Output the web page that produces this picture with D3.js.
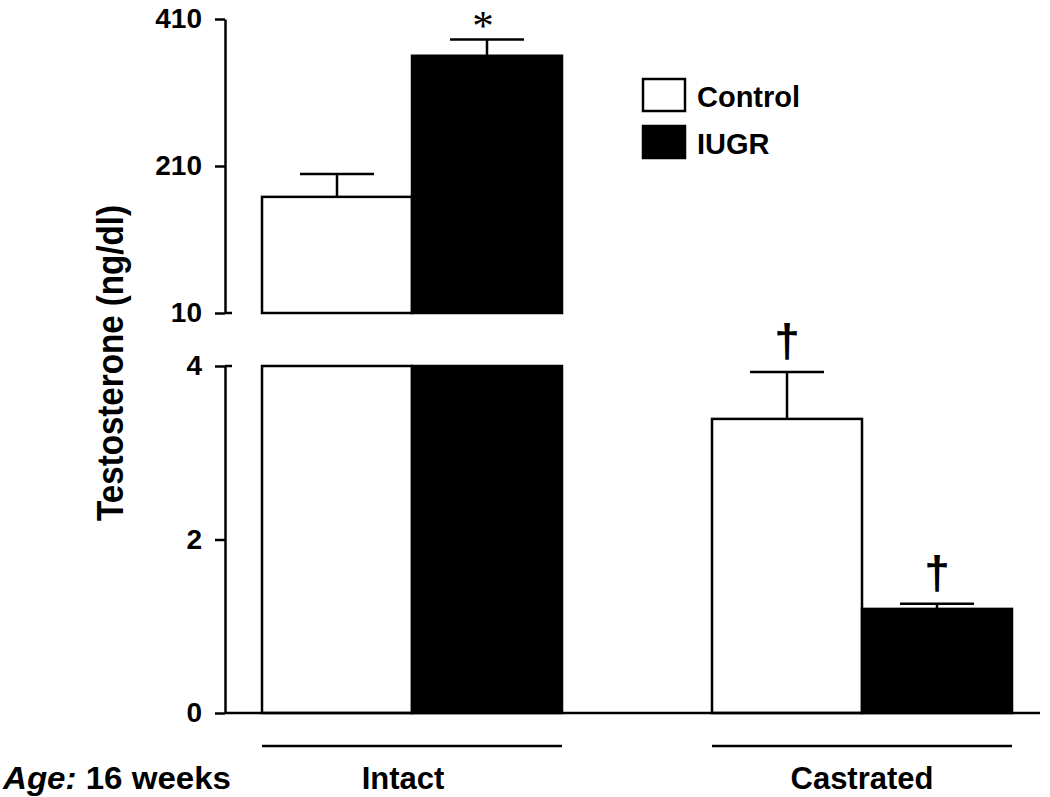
<!DOCTYPE html>
<html><head><meta charset="utf-8">
<script src="https://cdn.jsdelivr.net/npm/d3@7"></script>
<style>
html,body{margin:0;padding:0;background:#fff;}
text{font-family:"Liberation Sans",Arial,sans-serif;font-weight:bold;fill:#000;}
</style></head>
<body><svg id="c" width="1050" height="797"></svg>
<script>
const categories = ["Intact","Castrated"];
const seriesNames = ["Control","IUGR"];
const controlValues = [168, 3.39];
const iugrValues = [360, 1.2];
const controlSEM = [31, 0.54];
const iugrSEM = [22, 0.06];
const upperTicks = [10,210,410];
const lowerTicks = [0,2,4];
const controlMarkers = ["","†"];
const iugrMarkers = ["*","†"];

const svg = d3.select("#c");
const yUp = d3.scaleLinear().domain([10,410]).range([313,19]);
const yLo = d3.scaleLinear().domain([0,4]).range([713,366]);
const x = d3.scaleBand().domain(categories).range([262,1012]).paddingInner(1/3).paddingOuter(0);
const xs = d3.scaleBand().domain(seriesNames).range([0,x.bandwidth()]);
const axisX = 225;
const SW = 2.5;

// axes
const gUp = svg.append("g").attr("transform",`translate(${axisX},0)`)
  .call(d3.axisLeft(yUp).tickValues(upperTicks).tickSize(10).tickSizeOuter(0).tickPadding(13).tickFormat(d3.format("d")));
const gLo = svg.append("g").attr("transform",`translate(${axisX},0)`)
  .call(d3.axisLeft(yLo).tickValues(lowerTicks).tickSize(10).tickSizeOuter(0).tickPadding(13).tickFormat(d3.format("d")));
[gUp,gLo].forEach(g=>{
  g.selectAll("path.domain").attr("stroke","#000").attr("stroke-width",SW);
  g.selectAll(".tick line").attr("stroke","#000").attr("stroke-width",SW);
  g.selectAll(".tick text").attr("font-size",28).attr("font-family","Liberation Sans, Arial, sans-serif").attr("font-weight","bold").attr("fill","#000");
});
// break caps
[yUp(10), yLo(4)].forEach(yy=>{
  svg.append("line").attr("x1",axisX).attr("x2",axisX+7).attr("y1",yy).attr("y2",yy).attr("stroke","#000").attr("stroke-width",SW);
});

// data rows
const rows = [];
categories.forEach((c,i)=>{
  rows.push({cat:c,s:"Control",v:controlValues[i],e:controlSEM[i],mark:controlMarkers[i]});
  rows.push({cat:c,s:"IUGR",v:iugrValues[i],e:iugrSEM[i],mark:iugrMarkers[i]});
});
const fill = s => s==="Control" ? "#fff" : "#000";

rows.forEach(r=>{
  const x0 = x(r.cat)+xs(r.s), w = xs.bandwidth(), cx = x0+w/2;
  let scale;
  if (r.v > 4) {
    svg.append("rect").attr("x",x0).attr("y",yLo(4)).attr("width",w).attr("height",yLo(0)-yLo(4))
      .attr("fill",fill(r.s)).attr("stroke","#000").attr("stroke-width",SW);
    svg.append("rect").attr("x",x0).attr("y",yUp(r.v)).attr("width",w).attr("height",yUp(10)-yUp(r.v))
      .attr("fill",fill(r.s)).attr("stroke","#000").attr("stroke-width",SW);
    scale = yUp;
  } else {
    svg.append("rect").attr("x",x0).attr("y",yLo(r.v)).attr("width",w).attr("height",yLo(0)-yLo(r.v))
      .attr("fill",fill(r.s)).attr("stroke","#000").attr("stroke-width",SW);
    scale = yLo;
  }
  const topY = scale(r.v), errY = scale(r.v + r.e);
  svg.append("line").attr("x1",cx).attr("x2",cx).attr("y1",topY).attr("y2",errY).attr("stroke","#000").attr("stroke-width",SW);
  svg.append("line").attr("x1",cx-37).attr("x2",cx+37).attr("y1",errY).attr("y2",errY).attr("stroke","#000").attr("stroke-width",SW);
  if (r.mark==="*") {
    svg.append("text").attr("x",cx-4).attr("y",errY).attr("text-anchor","middle")
      .style("font-family","Liberation Serif, Times New Roman, serif").style("font-weight","normal")
      .attr("font-size",43).text("*");
  } else if (r.mark) {
    svg.append("text").attr("x",cx).attr("y",errY-15).attr("text-anchor","middle").attr("font-size",46).text(r.mark);
  }
});

// baseline
svg.append("line").attr("x1",axisX).attr("x2",1040).attr("y1",yLo(0)).attr("y2",yLo(0)).attr("stroke","#000").attr("stroke-width",SW);

// group underlines and labels
const labelShift = [-9, 0];
categories.forEach((c,i)=>{
  svg.append("line").attr("x1",x(c)).attr("x2",x(c)+x.bandwidth()).attr("y1",746).attr("y2",746).attr("stroke","#000").attr("stroke-width",SW);
  svg.append("text").attr("x",x(c)+x.bandwidth()/2+labelShift[i]).attr("y",789).attr("text-anchor","middle").attr("font-size",31).text(c);
});
const age = svg.append("text").attr("x",3).attr("y",789).attr("font-size",31)
  .attr("textLength",228).attr("lengthAdjust","spacingAndGlyphs");
age.append("tspan").attr("font-style","italic").text("Age:");
age.append("tspan").text(" 16 weeks");

// y title
svg.append("text").attr("transform","translate(123,363) rotate(-90)").attr("text-anchor","middle").attr("font-size",36)
  .attr("textLength",316).attr("lengthAdjust","spacingAndGlyphs").text("Testosterone (ng/dl)");

// legend
const lg = svg.append("g");
seriesNames.forEach((s,i)=>{
  const yy = 79 + i*47;
  lg.append("rect").attr("x",643).attr("y",yy).attr("width",42).attr("height",32).attr("fill",fill(s)).attr("stroke","#000").attr("stroke-width",SW);
  lg.append("text").attr("x",697).attr("y",yy+28).attr("font-size",29).text(s);
});
</script></body></html>
